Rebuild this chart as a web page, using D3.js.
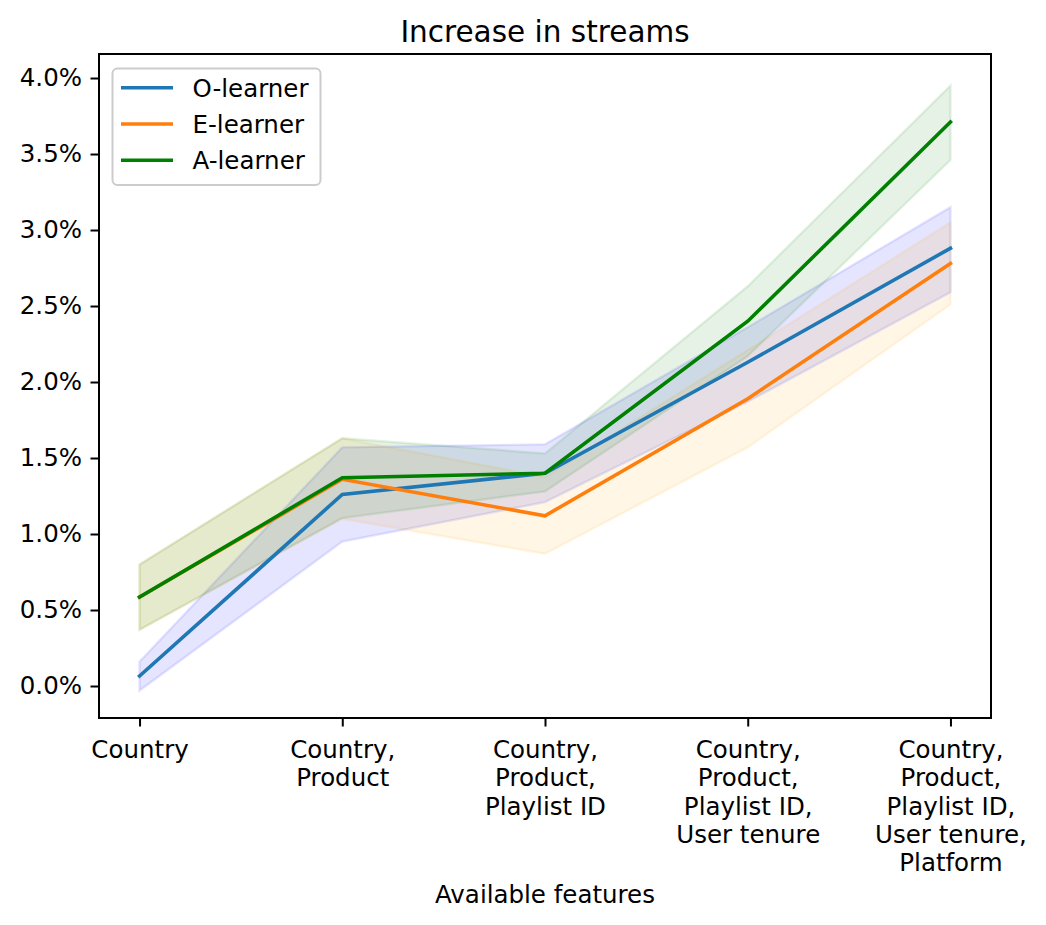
<!DOCTYPE html>
<html>
<head>
<meta charset="utf-8">
<script src="https://cdn.jsdelivr.net/npm/d3@7"></script>
<style>
  body { margin: 0; background: #fff; }
  svg, svg text { font-family: "DejaVu Sans", sans-serif; }
</style>
</head>
<body>
<div id="chart"></div>
<script>
// feature sets (x axis)
const featureSets = [
  ["Country"],
  ["Country,", "Product"],
  ["Country,", "Product,", "Playlist ID"],
  ["Country,", "Product,", "Playlist ID,", "User tenure"],
  ["Country,", "Product,", "Playlist ID,", "User tenure,", "Platform"]
];

// increase in streams, in percent
const oMean  = [0.066, 1.26, 1.40, 2.13, 2.88];
const oLower = [-0.03, 0.95, 1.21, 1.87, 2.59];
const oUpper = [0.16, 1.57, 1.59, 2.36, 3.15];

const eMean  = [0.585, 1.36, 1.12, 1.89, 2.78];
const eLower = [0.37, 1.10, 0.87, 1.57, 2.51];
const eUpper = [0.80, 1.63, 1.375, 2.21, 3.05];

const aMean  = [0.585, 1.37, 1.40, 2.40, 3.71];
const aLower = [0.37, 1.105, 1.28, 2.17, 3.46];
const aUpper = [0.80, 1.63, 1.53, 2.63, 3.95];

const yTicks = [0, 0.5, 1, 1.5, 2, 2.5, 3, 3.5, 4];

const learners = [
  {name: "O-learner", mean: oMean, lower: oLower, upper: oUpper, line: "#1f77b4", band: "blue"},
  {name: "E-learner", mean: eMean, lower: eLower, upper: eUpper, line: "#ff7f0e", band: "orange"},
  {name: "A-learner", mean: aMean, lower: aLower, upper: aUpper, line: "green", band: "green"}
];

const W = 1046, H = 925;
const box = {left: 99, right: 991, top: 54, bottom: 718};
const fs = 24.5;

const svg = d3.select("#chart").append("svg")
  .attr("width", W).attr("height", H);

const x = d3.scaleLinear().domain([-0.2, 4.2]).range([box.left, box.right]);
const y = d3.scaleLinear().domain([-0.2105, 4.158]).range([box.bottom, box.top]);

// bands
learners.forEach(l => {
  const area = d3.area()
    .x((d, i) => x(i))
    .y0((d, i) => y(l.lower[i]))
    .y1((d, i) => y(l.upper[i]));
  svg.append("path")
    .datum(l.mean)
    .attr("d", area)
    .attr("fill", l.band)
    .attr("fill-opacity", 0.1)
    .attr("stroke", l.band)
    .attr("stroke-opacity", 0.1)
    .attr("stroke-width", 2.4);
});

// mean lines
learners.forEach(l => {
  const line = d3.line()
    .x((d, i) => x(i))
    .y(d => y(d));
  svg.append("path")
    .datum(l.mean)
    .attr("d", line)
    .attr("fill", "none")
    .attr("stroke", l.line)
    .attr("stroke-width", 3.6)
    .attr("stroke-linejoin", "miter")
    .attr("stroke-linecap", "square");
});

// y axis
const yAxis = svg.append("g")
  .attr("transform", `translate(${box.left},0)`)
  .call(d3.axisLeft(y).tickValues(yTicks).tickSize(8.5).tickPadding(8.5)
    .tickFormat(d => d3.format(".1f")(d) + "%"));
yAxis.attr("font-family", "DejaVu Sans");
yAxis.select(".domain").remove();
yAxis.selectAll(".tick line").attr("stroke", "#000").attr("stroke-width", 2);
yAxis.selectAll(".tick text").attr("font-size", fs).attr("fill", "#000");

// x axis
const xAxis = svg.append("g")
  .attr("transform", `translate(0,${box.bottom})`)
  .call(d3.axisBottom(x).tickValues(d3.range(featureSets.length)).tickSize(8.5).tickFormat(""));
xAxis.attr("font-family", "DejaVu Sans");
xAxis.select(".domain").remove();
xAxis.selectAll(".tick line").attr("stroke", "#000").attr("stroke-width", 2);
xAxis.selectAll(".tick").each(function(d) {
  const t = d3.select(this).append("text")
    .attr("text-anchor", "middle")
    .attr("font-family", "DejaVu Sans")
    .attr("font-size", fs)
    .attr("fill", "#000");
  featureSets[d].forEach((s, k) => {
    t.append("tspan").attr("x", 0).attr("y", 40 + k * 28.3).text(s);
  });
});

// frame
svg.append("rect")
  .attr("x", box.left).attr("y", box.top)
  .attr("width", box.right - box.left).attr("height", box.bottom - box.top)
  .attr("fill", "none").attr("stroke", "#000").attr("stroke-width", 2);

// title and axis label
svg.append("text")
  .attr("x", (box.left + box.right) / 2).attr("y", 42)
  .attr("text-anchor", "middle").attr("font-size", 29.5)
  .text("Increase in streams");

svg.append("text")
  .attr("x", (box.left + box.right) / 2).attr("y", 903)
  .attr("text-anchor", "middle").attr("font-size", fs)
  .text("Available features");

// legend
const leg = svg.append("g");
leg.append("rect")
  .attr("x", 112.5).attr("y", 68.5).attr("width", 208).attr("height", 116.5)
  .attr("rx", 5).attr("fill", "#fff").attr("fill-opacity", 0.8)
  .attr("stroke", "#cccccc").attr("stroke-width", 2);
learners.forEach((l, i) => {
  const ly = 87.7 + i * 36.3;
  leg.append("line")
    .attr("x1", 121).attr("x2", 173).attr("y1", ly).attr("y2", ly)
    .attr("stroke", l.line).attr("stroke-width", 3.6);
  leg.append("text")
    .attr("x", 192.5).attr("y", ly + 8.8)
    .attr("font-size", fs)
    .text(l.name);
});
</script>
</body>
</html>
